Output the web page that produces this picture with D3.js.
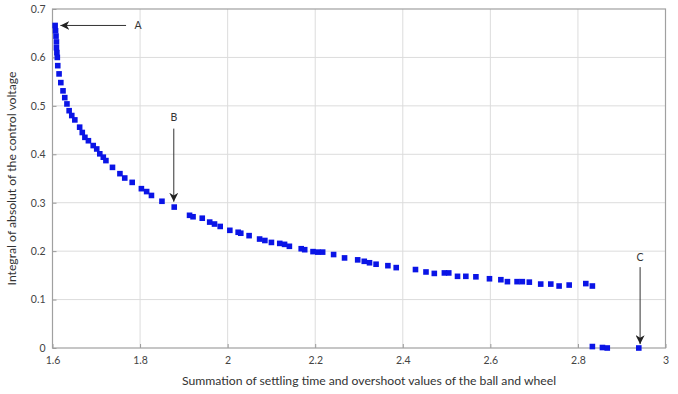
<!DOCTYPE html>
<html><head><meta charset="utf-8">
<script src="https://cdn.jsdelivr.net/npm/d3@7/dist/d3.min.js"></script>
<style>body{margin:0;background:#fff}svg{display:block}text{font-family:Lato,"Open Sans",sans-serif}</style>
</head><body><svg id="c" width="678" height="394"></svg>
<script>
const xValues=[1.606,1.607,1.608,1.609,1.609,1.610,1.611,1.612,1.615,1.619,1.624,1.628,1.633,1.638,1.644,1.651,1.662,1.668,1.674,1.682,1.693,1.701,1.708,1.716,1.722,1.737,1.754,1.765,1.782,1.803,1.815,1.826,1.850,1.878,
1.913,1.921,1.942,1.959,1.970,1.983,2.005,2.024,2.030,2.049,2.073,2.085,2.100,2.119,2.130,2.141,2.168,2.176,2.195,2.206,2.217,2.242,2.267,2.297,2.312,
2.324,2.339,2.366,2.385,2.429,2.453,2.472,2.495,2.505,2.525,2.544,2.567,2.598,2.624,2.639,2.661,2.673,2.689,2.715,2.738,2.757,2.780,2.818,2.833,
2.833,2.856,2.867,2.939];
const yValues=[0.666,0.655,0.644,0.632,0.620,0.610,0.600,0.583,0.566,0.548,0.531,0.517,0.504,0.490,0.480,0.471,0.456,0.445,0.435,0.428,0.418,0.411,0.401,0.394,0.387,0.373,0.360,0.351,0.342,0.329,0.323,0.315,0.303,0.291,
0.274,0.271,0.268,0.260,0.256,0.251,0.243,0.239,0.237,0.232,0.225,0.222,0.218,0.216,0.214,0.210,0.205,0.203,0.199,0.198,0.198,0.193,0.186,0.182,0.179,
0.176,0.173,0.170,0.166,0.162,0.157,0.154,0.155,0.155,0.148,0.148,0.147,0.143,0.141,0.137,0.137,0.137,0.136,0.132,0.132,0.128,0.130,0.133,0.128,
0.003,0.001,0.000,0.000];
const xTicks=[1.6,1.8,2,2.2,2.4,2.6,2.8,3];
const xTickLabels=["1.6","1.8","2","2.2","2.4","2.6","2.8","3"];
const yTicks=[0,0.1,0.2,0.3,0.4,0.5,0.6,0.7];
const yTickLabels=["0","0.1","0.2","0.3","0.4","0.5","0.6","0.7"];
const xTitle="Summation of settling time and overshoot values of the ball and wheel";
const yTitle="Integral of absolut of the control voltage";
const annLabels=["A","B","C"];
const annText=[[1.787,0.666],[1.877,0.476],[2.942,0.187]];
const annTail=[[1.768,0.666],[1.877,0.453],[2.942,0.167]];
const annHead=[[1.618,0.666],[1.877,0.302],[2.942,0.008]];

const svg=d3.select("#c");
const m={l:52.5,r:665.5,t:9,b:348};
const x=d3.scaleLinear().domain([1.6,3]).range([m.l,m.r]);
const y=d3.scaleLinear().domain([0,0.7]).range([m.b,m.t]);
const n=Math.min(xValues.length,yValues.length);
const pts=d3.range(n).map(i=>[xValues[i],yValues[i]]);

svg.append("g").selectAll("line").data(xTicks.slice(1,-1)).join("line")
 .attr("x1",d=>x(d)).attr("x2",d=>x(d)).attr("y1",m.t).attr("y2",m.b)
 .attr("stroke","#dcdcdc").attr("stroke-width",1);
svg.append("g").selectAll("line").data(yTicks.slice(1,-1)).join("line")
 .attr("y1",d=>y(d)).attr("y2",d=>y(d)).attr("x1",m.l).attr("x2",m.r)
 .attr("stroke","#dcdcdc").attr("stroke-width",1);

const ax=d3.axisBottom(x).tickValues(xTicks).tickFormat((d,i)=>xTickLabels[i]).tickSizeInner(-4).tickSizeOuter(0).tickPadding(9);
const ay=d3.axisLeft(y).tickValues(yTicks).tickFormat((d,i)=>yTickLabels[i]).tickSizeInner(-4).tickSizeOuter(0).tickPadding(7);
const gx=svg.append("g").attr("transform",`translate(0,${m.b})`).call(ax);
const gy=svg.append("g").attr("transform",`translate(${m.l},0)`).call(ay);
[gx,gy].forEach(g=>{g.select(".domain").remove();g.selectAll("line").attr("stroke","#999");
 g.selectAll("text").attr("fill","#444").style("font-size","10.5px").style("font-family","Lato,sans-serif");});
svg.append("rect").attr("x",m.l).attr("y",m.t).attr("width",m.r-m.l).attr("height",m.b-m.t)
 .attr("fill","none").attr("stroke","#a0a0a0").attr("stroke-width",1.2);

svg.append("g").selectAll("rect").data(pts).join("rect")
 .attr("x",d=>x(d[0])-2.8).attr("y",d=>y(d[1])-2.8).attr("width",5.6).attr("height",5.6)
 .attr("fill","#0a14e6");

svg.append("defs").append("marker").attr("id","ah").attr("viewBox","0 0 10 10").attr("refX",10).attr("refY",5)
 .attr("markerWidth",9).attr("markerHeight",9).attr("markerUnits","userSpaceOnUse").attr("orient","auto")
 .append("path").attr("d","M10,5 L0,0 L3,5 L0,10 Z").attr("fill","#222");
annLabels.forEach((l,i)=>{
 svg.append("line").attr("x1",x(annTail[i][0])).attr("y1",y(annTail[i][1]))
  .attr("x2",x(annHead[i][0])).attr("y2",y(annHead[i][1]))
  .attr("stroke","#333").attr("stroke-width",1).attr("marker-end","url(#ah)");
 svg.append("text").attr("x",x(annText[i][0])).attr("y",y(annText[i][1])).attr("dy","0.35em")
  .attr("text-anchor",i===0?"start":"middle").attr("fill","#333").style("font-size","10.5px").text(l);
});

svg.append("text").attr("x",(m.l+m.r)/2+10).attr("y",385).attr("text-anchor","middle")
 .attr("fill","#333").style("font-size","12.2px").text(xTitle);
svg.append("text").attr("transform",`translate(16,${(m.t+m.b)/2}) rotate(-90)`).attr("text-anchor","middle")
 .attr("fill","#333").style("font-size","12.2px").text(yTitle);
</script></body></html>
